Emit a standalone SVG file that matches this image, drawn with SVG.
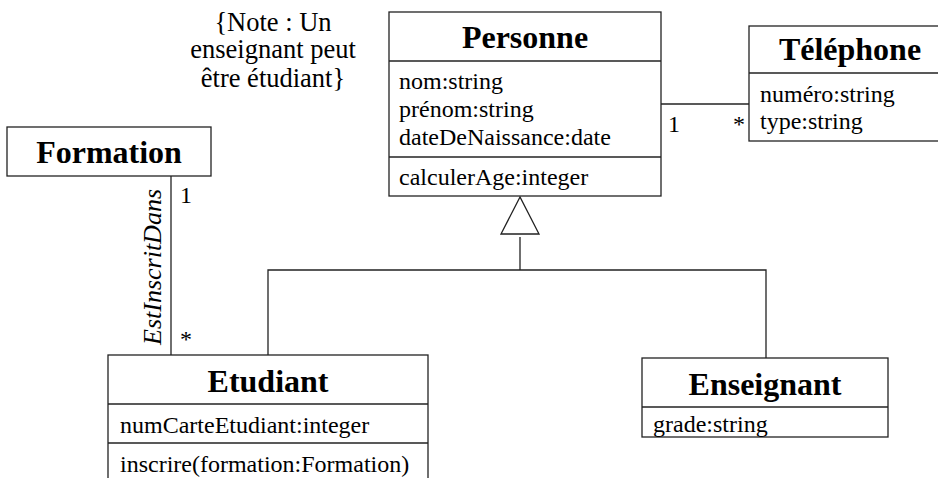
<svg xmlns="http://www.w3.org/2000/svg" width="938" height="478" viewBox="0 0 938 478">
<style>
  .box { fill: #ffffff; stroke: #222222; stroke-width: 1.3; }
  .ln { fill: none; stroke: #222222; stroke-width: 1.3; }
  .title { font-family: "Liberation Serif", "Times New Roman", serif; font-weight: bold; font-size: 32px; fill: #000; text-anchor: middle; }
  .attr { font-family: "Liberation Serif", "Times New Roman", serif; font-size: 24px; fill: #000; }
  .note { font-family: "Liberation Serif", "Times New Roman", serif; font-size: 26.5px; fill: #000; text-anchor: middle; }
  .role { font-family: "Liberation Serif", "Times New Roman", serif; font-style: italic; font-size: 26px; fill: #000; text-anchor: middle; }
</style>
<rect width="938" height="478" fill="#ffffff"/>

<g id="connectors">
  <line class="ln" x1="661" y1="104" x2="749" y2="104"/>
  <line class="ln" x1="171" y1="176" x2="171" y2="355"/>
  <polygon class="ln" points="520,197 501,234 539,234"/>
  <line class="ln" x1="520" y1="237" x2="520" y2="270"/>
  <polyline class="ln" points="268,355 268,270 766,270 766,358"/>
  <text class="attr" x="668" y="132">1</text>
  <text class="attr" x="733" y="132">*</text>
  <text class="attr" x="180" y="203">1</text>
  <text class="attr" x="180" y="347">*</text>
  <text class="role" transform="translate(161,267) rotate(-90)">EstInscritDans</text>
</g>

<g id="note">
  <text class="note" x="273" y="31">{Note : Un</text>
  <text class="note" x="273" y="58">enseignant peut</text>
  <text class="note" x="273" y="87">être étudiant}</text>
</g>

<g id="personne">
  <rect class="box" x="389" y="12" width="272" height="184"/>
  <line class="ln" x1="389" y1="61" x2="661" y2="61"/>
  <line class="ln" x1="389" y1="157" x2="661" y2="157"/>
  <text class="title" x="525" y="48">Personne</text>
  <text class="attr" x="399" y="89">nom:string</text>
  <text class="attr" x="399" y="117">prénom:string</text>
  <text class="attr" x="399" y="145">dateDeNaissance:date</text>
  <text class="attr" x="399" y="185">calculerAge:integer</text>
</g>

<g id="telephone">
  <rect class="box" x="749" y="26" width="204" height="115"/>
  <line class="ln" x1="749" y1="73" x2="953" y2="73"/>
  <text class="title" x="850" y="60">Téléphone</text>
  <text class="attr" x="760" y="102">numéro:string</text>
  <text class="attr" x="760" y="129">type:string</text>
</g>

<g id="formation">
  <rect class="box" x="7" y="127" width="204" height="49"/>
  <text class="title" x="109" y="163">Formation</text>
</g>

<g id="etudiant">
  <rect class="box" x="108" y="355" width="320" height="140"/>
  <line class="ln" x1="108" y1="404" x2="428" y2="404"/>
  <line class="ln" x1="108" y1="443" x2="428" y2="443"/>
  <text class="title" x="268" y="392">Etudiant</text>
  <text class="attr" x="120" y="433">numCarteEtudiant:integer</text>
  <text class="attr" x="120" y="472">inscrire(formation:Formation)</text>
</g>

<g id="enseignant">
  <rect class="box" x="642" y="358" width="246" height="79"/>
  <line class="ln" x1="642" y1="407" x2="888" y2="407"/>
  <text class="title" x="765" y="395">Enseignant</text>
  <text class="attr" x="653" y="432">grade:string</text>
</g>
</svg>
